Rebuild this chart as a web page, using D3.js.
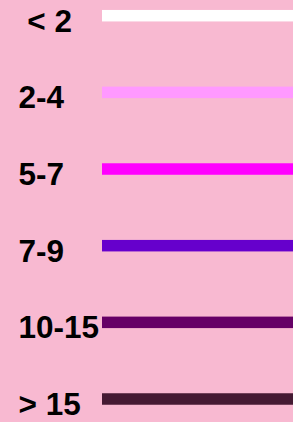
<!DOCTYPE html>
<html>
<head>
<meta charset="utf-8">
<script src="https://cdn.jsdelivr.net/npm/d3@7"></script>
<style>
  html, body { margin: 0; padding: 0; background: #f8b9d1; }
</style>
</head>
<body>
<div id="graph"></div>
<script>
// legend classes and their colours
var labels = ["\u00a0< 2", "2-4", "5-7", "7-9", "10-15", "> 15"];
var colors = ["#ffffff", "#ff99ff", "#ff00ff", "#6600cc", "#660066", "#451a33"];

window.onload = start;

function start() {
    var width = 293;
    var height = 422;

    var svg = d3.select("#graph")
        .append("svg")
        .attr("width", width)
        .attr("height", height);

    svg.append("rect")
        .attr("width", width)
        .attr("height", height)
        .attr("fill", "#f8b9d1");

    // text baselines are evenly spaced down the picture
    var y = d3.scalePoint()
        .domain(d3.range(labels.length))
        .range([31.7, 415]);

    var g = svg.selectAll("g.row")
        .data(labels)
        .enter()
        .append("g")
        .attr("class", "row");

    g.append("text")
        .attr("x", 18.5)
        .attr("y", function (d, i) { return y(i); })
        .attr("font-family", "Liberation Sans, Arial, sans-serif")
        .attr("font-weight", "bold")
        .attr("font-size", 31.5)
        .attr("fill", "#000")
        .text(function (d) { return d; });

    g.append("rect")
        .attr("x", 102)
        .attr("y", function (d, i) { return y(i) - 16 - 5.75; })
        .attr("width", width - 102)
        .attr("height", 11.5)
        .attr("fill", function (d, i) { return colors[i]; });
}
</script>
</body>
</html>
